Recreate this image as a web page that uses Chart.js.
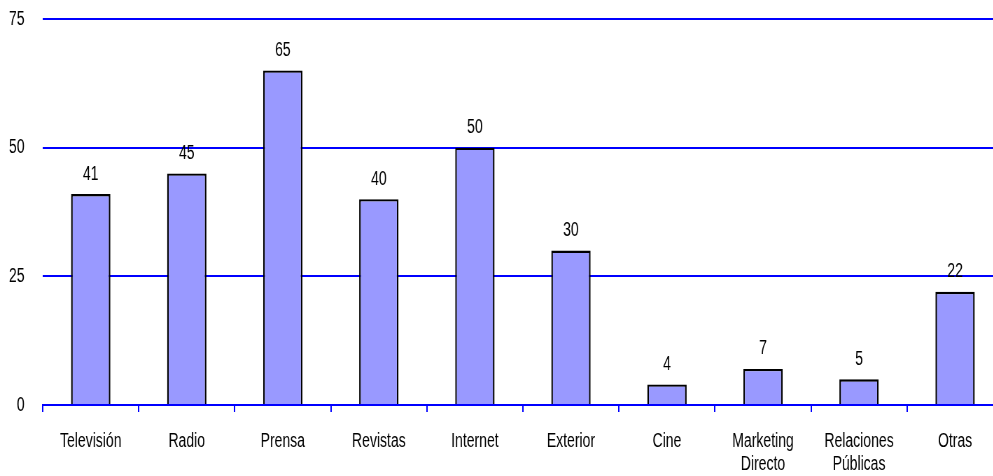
<!DOCTYPE html>
<html>
<head>
<meta charset="utf-8">
<script src="https://cdn.jsdelivr.net/npm/chart.js@4"></script>
<style>
  html, body { margin: 0; padding: 0; background: #fff; overflow: hidden; }
  /* the chart is laid out wide and squeezed horizontally, giving condensed lettering */
  #wrap { width: 1433px; height: 476px; transform: scaleX(0.7); transform-origin: 0 0; }
</style>
</head>
<body>
<div id="wrap"><canvas id="mediaChart"></canvas></div>
<script>
// Inversión por medio: categorías, valores y marcas del eje Y
const categories = ['Televisión', 'Radio', 'Prensa', 'Revistas', 'Internet', 'Exterior', 'Cine',
    ['Marketing', 'Directo'], ['Relaciones', 'Públicas'], 'Otras'];
const values = [41, 45, 65, 40, 50, 30, 4, 7, 5, 22];
const yTicks = [0, 25, 50, 75];

const FONT = "'Liberation Sans', Arial, sans-serif";
const FONT_SIZE = 20;

// writes each bar's value above it
const valueLabels = {
    id: 'valueLabels',
    afterDatasetsDraw(chart) {
        const { ctx } = chart;
        const meta = chart.getDatasetMeta(0);
        ctx.save();
        ctx.font = FONT_SIZE + 'px ' + FONT;
        ctx.fillStyle = '#000';
        ctx.textAlign = 'center';
        ctx.textBaseline = 'middle';
        meta.data.forEach((bar, i) => {
            ctx.fillText(String(values[i]), bar.x, bar.y - 20);
        });
        ctx.restore();
    }
};

const ctx = document.getElementById('mediaChart').getContext('2d');
const mediaChart = new Chart(ctx, {
    type: 'bar',
    data: {
        labels: categories,
        datasets: [{
            data: values,
            backgroundColor: '#9999FF',
            borderColor: '#000000',
            borderWidth: 2.4,
            barPercentage: 0.41,
            categoryPercentage: 1
        }]
    },
    options: {
        responsive: true,
        maintainAspectRatio: false,
        animation: false,
        layout: { padding: { top: 19, right: 0, left: 0, bottom: 0 } },
        scales: {
            x: {
                grid: {
                    display: true,
                    drawOnChartArea: false,
                    drawTicks: true,
                    tickLength: 7,
                    color: '#0000FF',
                    lineWidth: 2,
                    offset: true
                },
                border: { display: true, color: '#0000FF', width: 2 },
                ticks: {
                    color: '#000',
                    font: { family: FONT, size: FONT_SIZE, lineHeight: 1.15 },
                    padding: 18,
                    maxRotation: 0,
                    autoSkip: false
                },
                afterFit(scale) {
                    scale.height = 71;
                    scale.paddingLeft = 0;
                    scale.paddingRight = 0;
                }
            },
            y: {
                min: 0,
                max: 75,
                afterBuildTicks(scale) {
                    scale.ticks = yTicks.map(v => ({ value: v }));
                },
                grid: {
                    color: '#0000FF',
                    lineWidth: 2,
                    drawTicks: false
                },
                border: { display: false },
                ticks: {
                    color: '#000',
                    font: { family: FONT, size: FONT_SIZE },
                    padding: 26
                },
                afterFit(scale) {
                    scale.width = 61;
                    scale.paddingTop = 0;
                    scale.paddingBottom = 0;
                }
            }
        },
        plugins: {
            legend: { display: false },
            tooltip: { enabled: false }
        }
    },
    plugins: [valueLabels]
});
</script>
</body>
</html>
